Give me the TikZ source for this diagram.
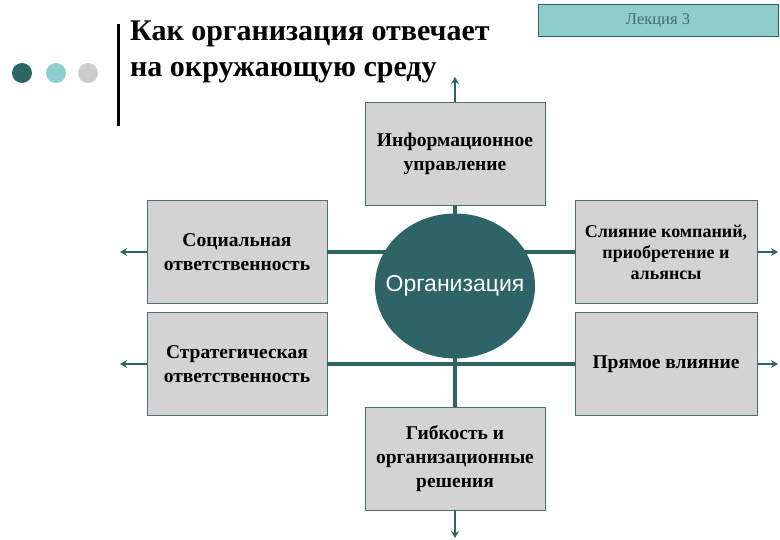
\documentclass[tikz,border=0pt]{standalone}
\usepackage{fontspec}
\setmainfont{Liberation Serif}
\newfontfamily\arialf{Liberation Sans}
\usetikzlibrary{arrows.meta,shapes.geometric}
\definecolor{teal1}{HTML}{2E6466}
\definecolor{teal2}{HTML}{8FCCCC}
\definecolor{grayb}{HTML}{D3D3D3}
\definecolor{lgray}{HTML}{CCCCCC}
\definecolor{bord}{HTML}{4F6E6E}
\begin{document}
\begin{tikzpicture}[x=1pt,y=-1pt,
  box/.style={draw=bord,line width=0.8pt,fill=grayb,minimum width=180pt,minimum height=103pt,align=center,font=\fontsize{19.5}{24}\selectfont\bfseries,inner sep=1pt},
  conn/.style={draw=teal1,line width=3.5pt},
  arr/.style={draw=teal1,line width=2pt,-{Stealth[length=7pt,width=8pt]}},
  dot/.style={circle,minimum size=20pt,inner sep=0pt}]
\useasboundingbox (0,0) rectangle (780,540);
\fill[white] (0,0) rectangle (780,540);
% header
\node[dot,fill=teal1] (d1) at (22,73) {};
\node[dot,fill=teal2] (d2) at (56,73) {};
\node[dot,fill=lgray] (d3) at (88,73) {};
\fill[black] (116.5,24) rectangle (119.5,126);
\node[anchor=base west,align=left,inner sep=0pt,font=\fontsize{30}{36}\selectfont\bfseries] (title) at (130,77) {Как организация отвечает\\на окружающую среду};
\node[draw=teal1,line width=1pt,fill=teal2,minimum width=240pt,minimum height=32pt,inner sep=0pt,text=teal1!70!gray,font=\fontsize{16.5}{18}\selectfont] (lect) at (658,21) {Лекция 3};
% nodes
\node[box] (info) at (455,153.5) {Информационное\\управление};
\node[box] (soc) at (237,252) {Социальная\\ответственность};
\node[box] (strat) at (237,364) {Стратегическая\\ответственность};
\node[box,minimum width=182pt,font=\fontsize{18}{21}\selectfont\bfseries] (merge) at (666,252) {Слияние компаний,\\приобретение и\\альянсы};
\node[box,minimum width=182pt] (direct) at (666,364) {Прямое влияние};
\node[box] (flex) at (455,458.5) {Гибкость и\\организационные\\решения};
\coordinate (top) at (455,77);
\coordinate (bot) at (455,538);
\coordinate (l1) at (120,252);
\coordinate (l2) at (120,364);
\coordinate (r1) at (778,252);
\coordinate (r2) at (778,364);
% connectors
\draw[conn] (soc.east) -- (merge.west);
\draw[conn] (strat.east) -- (direct.west);
\draw[conn] (info.south) -- (flex.north);
\node[ellipse,fill=teal1,minimum width=160pt,minimum height=145pt,inner sep=0pt] (org) at (455,286) {};
\node[text=white,inner sep=0pt,font=\arialf\fontsize{23}{26}\selectfont] (orgt) at (org) {Организация};
\draw[arr] (info.north) -- (top);
\draw[arr] (flex.south) -- (bot);
\draw[arr] (soc.west) -- (l1);
\draw[arr] (strat.west) -- (l2);
\draw[arr] (merge.east) -- (r1);
\draw[arr] (direct.east) -- (r2);
\end{tikzpicture}
\end{document}
